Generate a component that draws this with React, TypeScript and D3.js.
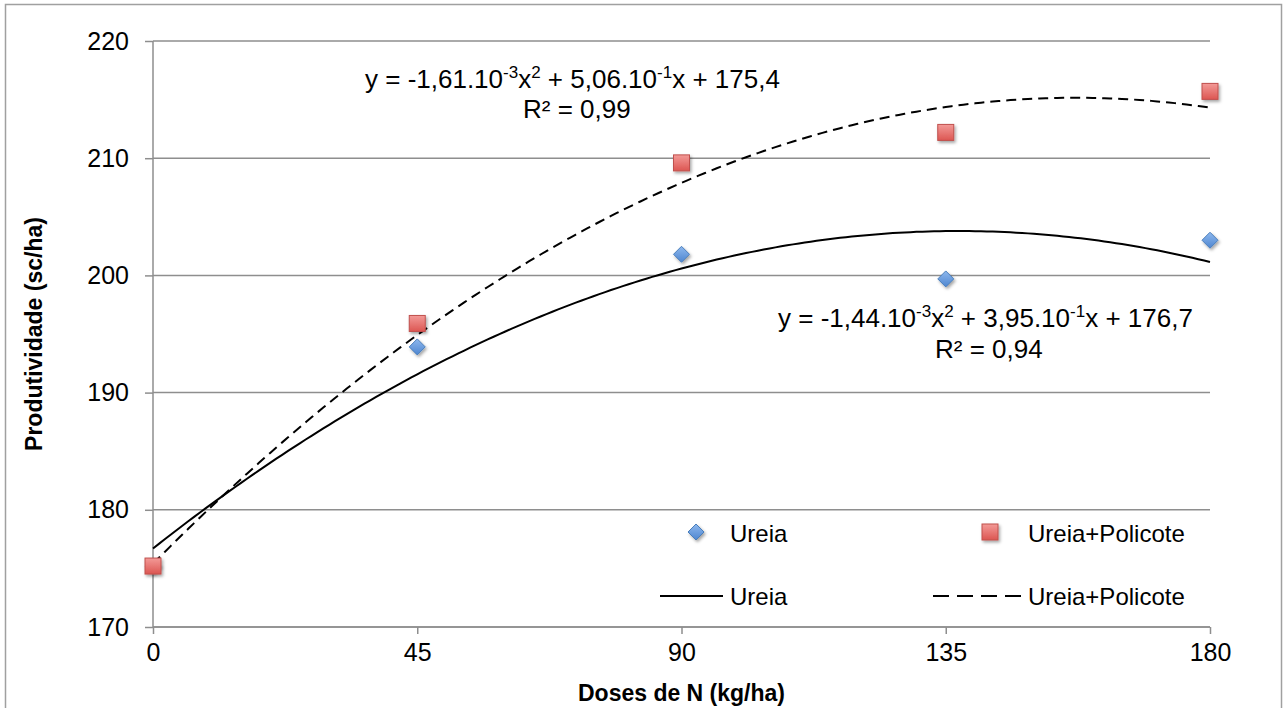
import React, { useEffect, useRef } from "react";
import * as d3 from "d3";

const doses = [0, 45, 90, 135, 180];
const ureia = [175.2, 193.9, 201.8, 199.7, 203.0];
const policote = [175.2, 195.9, 209.6, 212.2, 215.7];
const yTicks = [170, 180, 190, 200, 210, 220];

// trend line coefficients (a, b, c) as printed in the chart
const fitUreia = [-1.44e-3, 3.95e-1, 176.7];
const fitPolicote = [-1.61e-3, 5.06e-1, 175.4];

const seriesNames = ["Ureia", "Ureia+Policote"];

const FONT = "'Liberation Sans', Arial, sans-serif";

export default function App() {
    const svgRef = useRef<SVGSVGElement>(null);

    useEffect(() => {
        const width = 1286;
        const height = 708;
        const margin = { top: 41, right: 76, bottom: 81, left: 153 };
        const innerW = width - margin.left - margin.right;
        const innerH = height - margin.top - margin.bottom;

        const svg = d3.select(svgRef.current);
        svg.selectAll("*").remove();
        svg.attr("width", width).attr("height", height);

        const defs = svg.append("defs");
        const gb = defs.append("linearGradient").attr("id", "gBlue").attr("x1", 0).attr("y1", 0).attr("x2", 0).attr("y2", 1);
        gb.append("stop").attr("offset", "0%").attr("stop-color", "#8db8ee");
        gb.append("stop").attr("offset", "100%").attr("stop-color", "#4f86d0");
        const gr = defs.append("linearGradient").attr("id", "gRed").attr("x1", 0).attr("y1", 0).attr("x2", 0).attr("y2", 1);
        gr.append("stop").attr("offset", "0%").attr("stop-color", "#f39a97");
        gr.append("stop").attr("offset", "100%").attr("stop-color", "#dc5652");
        const sh = defs.append("filter").attr("id", "shadow").attr("x", "-50%").attr("y", "-50%").attr("width", "200%").attr("height", "200%");
        sh.append("feDropShadow").attr("dx", 1.5).attr("dy", 2).attr("stdDeviation", 1.5).attr("flood-color", "#000").attr("flood-opacity", 0.35);

        // outer frame
        svg.append("rect")
            .attr("x", 5.5).attr("y", 4.5)
            .attr("width", 1276).attr("height", 720)
            .attr("fill", "white").attr("stroke", "#a0a0a0").attr("stroke-width", 1.5);

        const g = svg.append("g").attr("transform", `translate(${margin.left},${margin.top})`);

        const x = d3.scaleLinear().domain([0, 180]).range([0, innerW]);
        const y = d3.scaleLinear().domain([170, 220]).range([innerH, 0]);

        // gridlines
        g.selectAll(".grid")
            .data(yTicks)
            .enter()
            .append("line")
            .attr("x1", 0).attr("x2", innerW)
            .attr("y1", (d) => y(d)).attr("y2", (d) => y(d))
            .attr("stroke", "#8e8e8e").attr("stroke-width", 1.5);

        // axes
        const yAxis = g.append("g").call(d3.axisLeft(y).tickValues(yTicks).tickSize(8).tickPadding(16));
        const xAxis = g.append("g")
            .attr("transform", `translate(0,${innerH})`)
            .call(d3.axisBottom(x).tickValues(doses).tickSize(7).tickPadding(9));
        [yAxis, xAxis].forEach((ax) => {
            ax.selectAll("path, line").attr("stroke", "#8e8e8e").attr("stroke-width", 1.5);
            ax.selectAll("text").attr("font-family", FONT).attr("font-size", 25).attr("fill", "#000");
        });
        yAxis.select(".domain").attr("d", `M0,${innerH}V0`);
        xAxis.select(".domain").attr("d", `M0,0H${innerW}`);

        // trend curves
        const xs = d3.range(0, 180.01, 1);
        const curve = (c: number[]) =>
            d3.line<number>()
                .x((d) => x(d))
                .y((d) => y(c[0] * d * d + c[1] * d + c[2]))(xs);
        g.append("path").attr("d", curve(fitUreia)).attr("fill", "none").attr("stroke", "#000").attr("stroke-width", 2);
        g.append("path").attr("d", curve(fitPolicote)).attr("fill", "none").attr("stroke", "#000").attr("stroke-width", 2).attr("stroke-dasharray", "10,6");

        // markers
        const diamond = (cx: number, cy: number) => `M${cx},${cy - 8}L${cx + 8},${cy}L${cx},${cy + 8}L${cx - 8},${cy}Z`;
        g.selectAll(".ur")
            .data(doses)
            .enter()
            .append("path")
            .attr("d", (d, i) => diamond(x(d), y(ureia[i])))
            .attr("fill", "url(#gBlue)").attr("stroke", "#4a7ebb").attr("stroke-width", 1)
            .attr("filter", "url(#shadow)");
        g.selectAll(".po")
            .data(doses)
            .enter()
            .append("rect")
            .attr("x", (d) => x(d) - 8).attr("y", (d, i) => y(policote[i]) - 8)
            .attr("width", 16).attr("height", 16)
            .attr("fill", "url(#gRed)").attr("stroke", "#c0504d").attr("stroke-width", 1)
            .attr("filter", "url(#shadow)");

        // equations
        const eq = (gx: number, gy: number, a: string, b: string, c: string, r2: string, rx: number, ry: number) => {
            const t = svg.append("text").attr("x", gx).attr("y", gy)
                .attr("font-family", FONT).attr("font-size", 26).attr("fill", "#000");
            t.append("tspan").text(`y = ${a}.10`);
            t.append("tspan").attr("font-size", 17).attr("dy", -10).text("-3");
            t.append("tspan").attr("dy", 10).text("x");
            t.append("tspan").attr("font-size", 17).attr("dy", -10).text("2");
            t.append("tspan").attr("dy", 10).text(` + ${b}.10`);
            t.append("tspan").attr("font-size", 17).attr("dy", -10).text("-1");
            t.append("tspan").attr("dy", 10).text(`x + ${c}`);
            svg.append("text").attr("x", rx).attr("y", ry)
                .attr("font-family", FONT).attr("font-size", 26).attr("fill", "#000")
                .text(`R² = ${r2}`);
        };
        eq(365, 88, "-1,61", "5,06", "175,4", "0,99", 523, 118);
        eq(778, 327, "-1,44", "3,95", "176,7", "0,94", 935, 358);

        // legend
        const leg = svg.append("g").attr("font-family", FONT).attr("font-size", 24).attr("fill", "#000");
        leg.append("path").attr("d", diamond(696, 532)).attr("fill", "url(#gBlue)").attr("stroke", "#4a7ebb").attr("filter", "url(#shadow)");
        leg.append("text").attr("x", 730).attr("y", 542).text(seriesNames[0]);
        leg.append("rect").attr("x", 982).attr("y", 524).attr("width", 16).attr("height", 16)
            .attr("fill", "url(#gRed)").attr("stroke", "#c0504d").attr("filter", "url(#shadow)");
        leg.append("text").attr("x", 1028).attr("y", 542).text(seriesNames[1]);
        leg.append("line").attr("x1", 660).attr("x2", 723).attr("y1", 596).attr("y2", 596).attr("stroke", "#000").attr("stroke-width", 2);
        leg.append("text").attr("x", 730).attr("y", 605).text(seriesNames[0]);
        leg.append("line").attr("x1", 933).attr("x2", 1023).attr("y1", 596).attr("y2", 596).attr("stroke", "#000").attr("stroke-width", 2).attr("stroke-dasharray", "16,8");
        leg.append("text").attr("x", 1028).attr("y", 605).text(seriesNames[1]);

        // axis titles
        svg.append("text")
            .attr("x", margin.left + innerW / 2).attr("y", 701)
            .attr("text-anchor", "middle")
            .attr("font-family", FONT).attr("font-size", 23).attr("font-weight", "bold")
            .text("Doses de N (kg/ha)");
        svg.append("text")
            .attr("transform", `translate(42,${margin.top + innerH / 2}) rotate(-90)`)
            .attr("text-anchor", "middle")
            .attr("font-family", FONT).attr("font-size", 23).attr("font-weight", "bold")
            .text("Produtividade (sc/ha)");
    }, []);

    return (
        <div style={{ position: "absolute", left: 0, top: 0, width: 1286, height: 708, overflow: "hidden", background: "#fff" }}>
            <svg ref={svgRef} style={{ display: "block" }} />
        </div>
    );
}
